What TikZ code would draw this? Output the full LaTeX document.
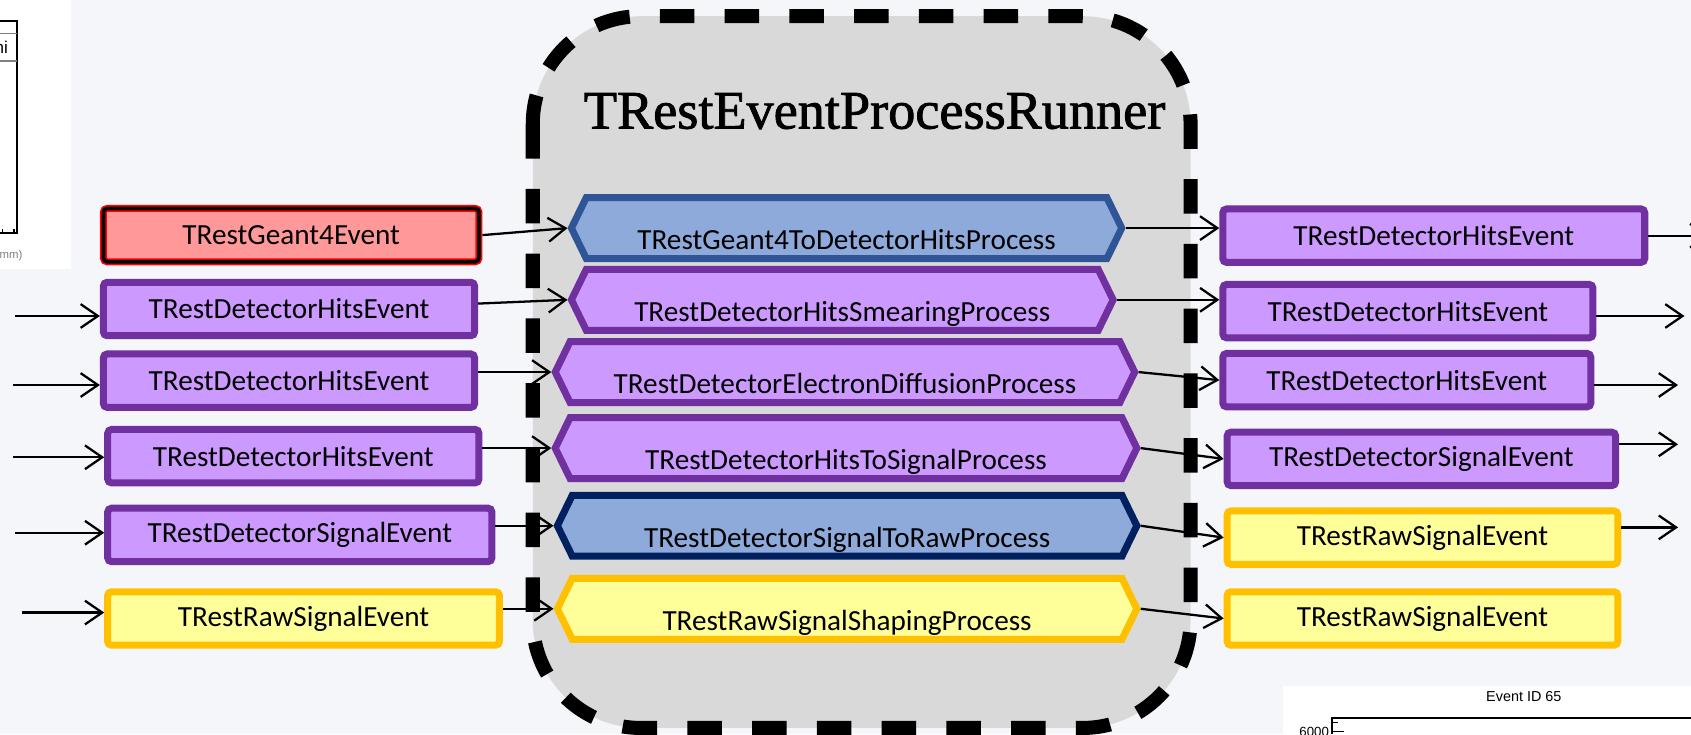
\documentclass[tikz,border=0pt]{standalone}
\usepackage{fontspec}
\setmainfont{Carlito}
\newfontfamily\titlefont[FakeBold=1.5]{Liberation Serif}
\newfontfamily\plotfont{Liberation Sans}
\usetikzlibrary{shapes.symbols,arrows.meta}
\definecolor{PageBg}{HTML}{F5F6FA}
\definecolor{RunnerGray}{HTML}{D9D9D9}
\definecolor{EvPurple}{HTML}{CC99FF}
\definecolor{EvPurpleLine}{HTML}{7030A0}
\definecolor{EvYellow}{HTML}{FFFF99}
\definecolor{EvYellowLine}{HTML}{FFC000}
\definecolor{EvRed}{HTML}{FF9999}
\definecolor{ProcBlue}{HTML}{8EAADB}
\definecolor{ProcBlueLine}{HTML}{2F5597}
\definecolor{ProcNavyLine}{HTML}{002060}
\tikzset{
  evbox/.style={rectangle,rounded corners=1pt,line width=0.065cm,minimum height=0.495cm,inner sep=0pt,font=\fontsize{7.7}{9}\selectfont},
  hitsev/.style={evbox,draw=EvPurpleLine,fill=EvPurple},
  rawev/.style={evbox,draw=EvYellowLine,fill=EvYellow},
  geantev/.style={evbox,draw=red,fill=EvRed,postaction={draw=black,line width=0.035cm}},
  procbox/.style={signal,signal to=west and east,signal pointer angle=128,line width=0.065cm,minimum height=0.565cm,inner sep=0pt,text height=0.40cm,text depth=0cm,font=\fontsize{7.7}{9}\selectfont},
  procpurple/.style={procbox,draw=EvPurpleLine,fill=EvPurple},
  procblue/.style={procbox,draw=ProcBlueLine,fill=ProcBlue},
  procnavy/.style={procbox,draw=ProcNavyLine,fill=ProcBlue},
  procyellow/.style={procbox,draw=EvYellowLine,fill=EvYellow},
  runner/.style={draw=black,fill=RunnerGray,line width=0.13cm,dash pattern=on 0.32cm off 0.28cm,rounded corners=1cm},
  flow/.style={-{Straight Barb[length=1.6mm,width=2.2mm]},line width=0.6pt},
}
\begin{document}
\begin{tikzpicture}[x=0.01cm,y=-0.01cm]
  \useasboundingbox (0,0) rectangle (1568,681);
  \clip (0,0) rectangle (1568,681);
  \fill[PageBg] (0,0) rectangle (1568,681);

  \fill[white] (0,0) rectangle (66,249);
  \draw[line width=0.4pt] (0,19.5) -- (16,19.5) -- (16,216) -- (0,216);
  \draw[line width=0.3pt,gray] (0,31) -- (16,31) (0,56.5) -- (16,56.5);
  \draw[line width=0.3pt] (2,216) -- (2,212) (13,216) -- (13,212);
  \node[anchor=east,inner sep=0pt,font=\plotfont\fontsize{4.5}{5}\selectfont] (plotA) at (8,44) {hi};
  \node[anchor=west,inner sep=0pt,text=gray,font=\plotfont\fontsize{3}{4}\selectfont] (plotAx) at (-1,237) {mm)};

  \fill[white] (1190,636) rectangle (1568,681);
  \node[inner sep=0pt,font=\plotfont\fontsize{3.8}{4.5}\selectfont] (plotB) at (1413,646) {Event ID 65};
  \draw[line width=0.4pt] (1568,666) -- (1235,666) -- (1235,681);
  \draw[line width=0.3pt] (1235,670) -- (1241,670) (1235,678) -- (1246,678);
  \node[anchor=east,inner sep=0pt,font=\plotfont\fontsize{3.5}{4}\selectfont] (plotBy) at (1233,679) {6000};

  \draw[runner] (494,15) rectangle (1104,675);
  \node[font=\titlefont\fontsize{14.3}{16}\selectfont] (title) at (811,103) {TRestEventProcessRunner};

  \node[procblue,minimum width=5.10cm] (p1) at (785,211.5) {TRestGeant4ToDetectorHitsProcess};
  \node[procpurple,minimum width=5.02cm] (p2) at (781,278) {TRestDetectorHitsSmearingProcess};
  \node[procpurple,minimum width=5.37cm] (p3) at (783.5,345) {TRestDetectorElectronDiffusionProcess};
  \node[procpurple,minimum width=5.39cm] (p4) at (784.5,415.5) {TRestDetectorHitsToSignalProcess};
  \node[procnavy,minimum width=5.37cm] (p5) at (785.5,487.5) {TRestDetectorSignalToRawProcess};
  \node[procyellow,minimum width=5.37cm] (p6) at (785.5,564.5) {TRestRawSignalShapingProcess};

  \node[geantev,minimum width=3.48cm] (l0) at (270,218) {TRestGeant4Event};
  \node[hitsev,minimum width=3.44cm] (l1) at (268,286.5) {TRestDetectorHitsEvent};
  \node[hitsev,minimum width=3.44cm] (l2) at (268,353) {TRestDetectorHitsEvent};
  \node[hitsev,minimum width=3.44cm] (l3) at (272,423) {TRestDetectorHitsEvent};
  \node[hitsev,minimum width=3.56cm] (l4) at (278,496) {TRestDetectorSignalEvent};
  \node[rawev,minimum width=3.63cm] (l5) at (281.5,573.5) {TRestRawSignalEvent};

  \node[hitsev,minimum width=3.91cm] (r1) at (1329.5,218.5) {TRestDetectorHitsEvent};
  \node[hitsev,minimum width=3.43cm] (r2) at (1305.5,288.5) {TRestDetectorHitsEvent};
  \node[hitsev,minimum width=3.41cm] (r3) at (1304.5,352.5) {TRestDetectorHitsEvent};
  \node[hitsev,minimum width=3.60cm] (r4) at (1318,425.5) {TRestDetectorSignalEvent};
  \node[rawev,minimum width=3.62cm] (r5) at (1319,498.5) {TRestRawSignalEvent};
  \node[rawev,minimum width=3.62cm] (r6) at (1319,573.5) {TRestRawSignalEvent};

  \coordinate (a1) at (14,293);
  \coordinate (a2) at (12,357);
  \coordinate (a3) at (12,424);
  \coordinate (a4) at (14,494);
  \coordinate (a5) at (20,568);
  \coordinate (b1) at (1585,218.5);
  \coordinate (b2) at (1562,293);
  \coordinate (b3) at (1556,357);
  \coordinate (b4) at (1556,412);
  \coordinate (b5) at (1556,489);

  \foreach \i in {1,...,5}
    \draw[flow] (a\i) -- (a\i -| l\i.west);
  \draw[flow] (l0.east) -- (p1.west);
  \draw[flow] ([yshift=0.05cm]l1.east) -- (p2.west);
  \foreach \i/\j in {2/3,3/4,4/5,5/6}
    \draw[flow] (l\i.east |- p\j.west) -- (p\j.west);
  \draw[flow] (p1.east) -- (p1.east -| r1.west);
  \draw[flow] (p2.east) -- (p2.east -| r2.west);
  \foreach \i in {3,...,6}
    \draw[flow] (p\i.east) -- (r\i.west);
  \foreach \i in {1,...,5}
    \draw[flow] (r\i.east |- b\i) -- (b\i);
\end{tikzpicture}
\end{document}
